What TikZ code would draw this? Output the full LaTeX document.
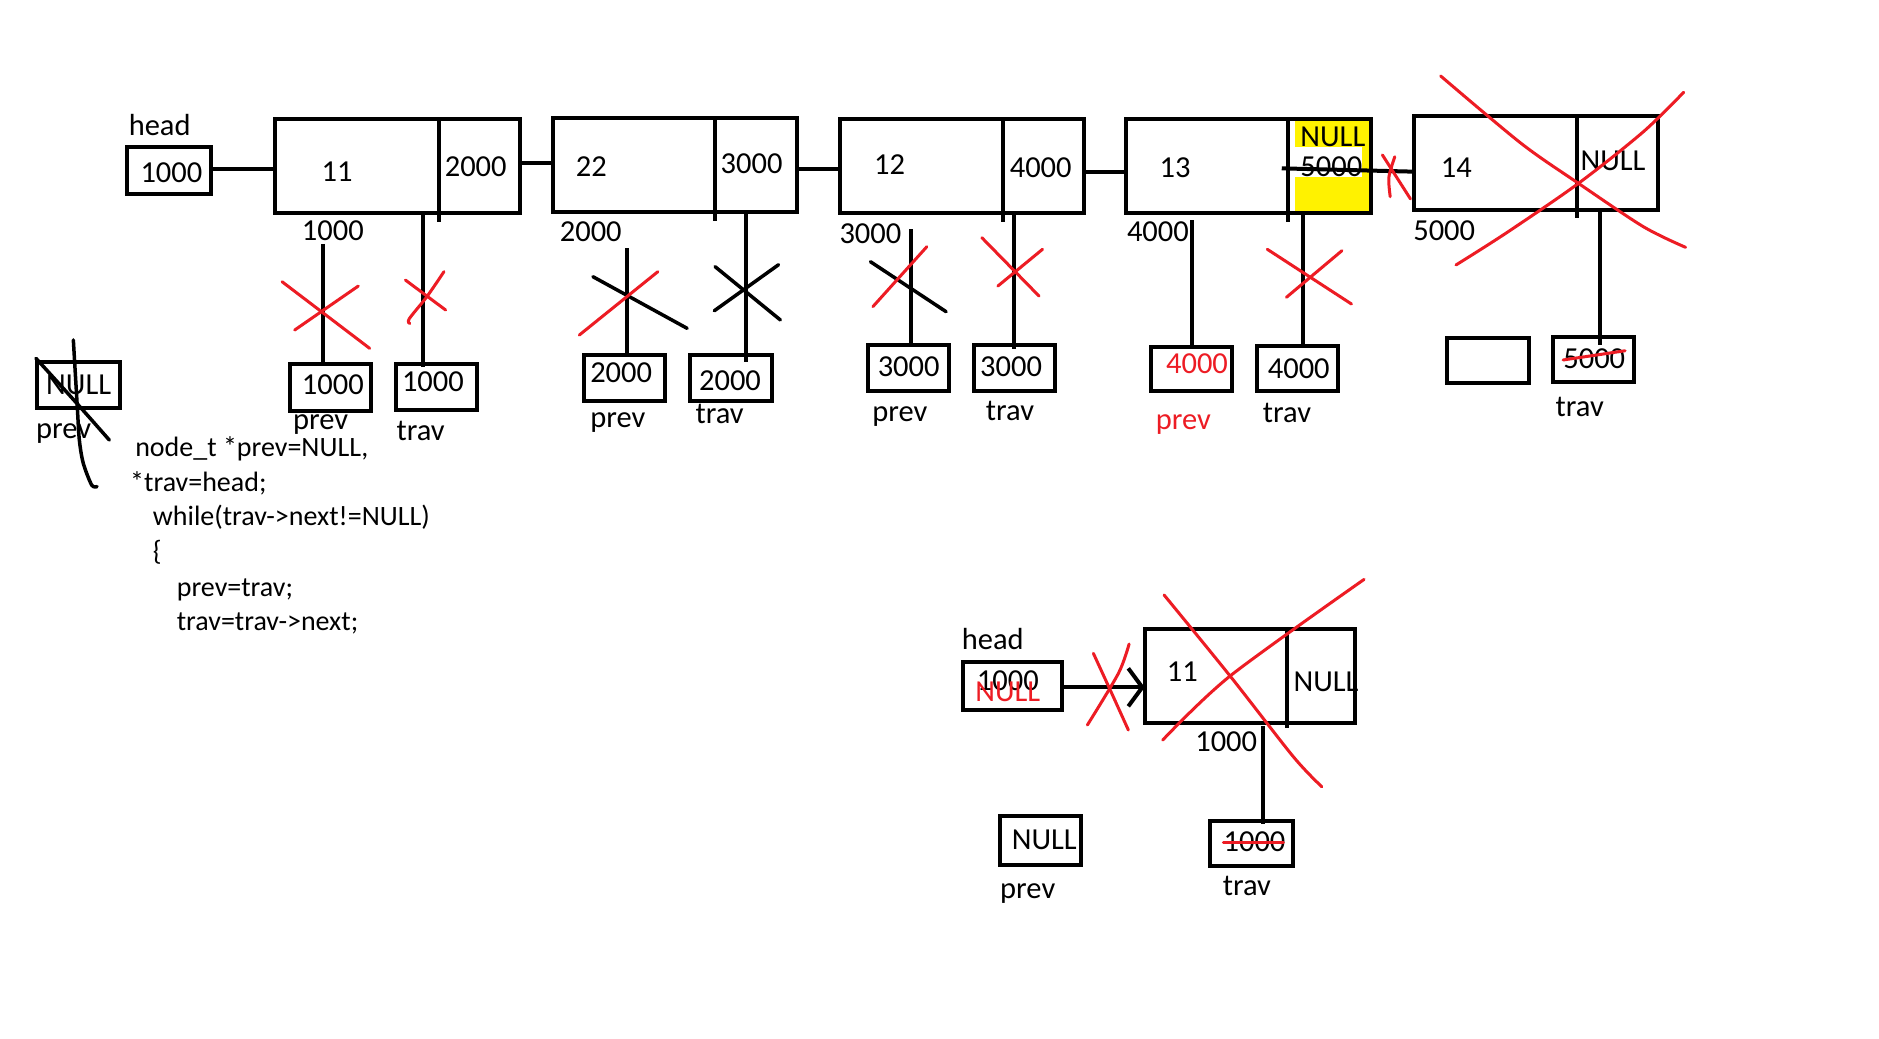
\documentclass[tikz,border=0pt]{standalone}
\usepackage{fontspec}
\setmainfont{Carlito}
\usetikzlibrary{arrows.meta,fit}
\definecolor{inkred}{RGB}{237,28,36}
\definecolor{hilite}{RGB}{255,242,0}
\begin{document}
\begin{tikzpicture}[x=1.1983pt,y=-1.1983pt,
  box/.style={draw, line width=4pt, inner sep=0pt, outer sep=0pt},
  wire/.style={line width=4pt},
  lbl/.style={font=\fontsize{30.5}{36}\selectfont, inner sep=0pt, anchor=base west},
  code/.style={font=\fontsize{28}{34}\selectfont, inner sep=0pt, anchor=base west},
  redink/.style={draw=inkred, line width=3pt, line cap=round},
  blackink/.style={draw=black, line width=3.5pt, line cap=round},
  redtext/.style={text=inkred}]

\fill[white] (0,0) rectangle (1568,867);
\useasboundingbox (0,0) rectangle (1568,867);

% ---------- list nodes (top row) ----------
\fill[hilite] (1080.7,98.7) rectangle (1143.3,176.7);
\fill[white] (1081,122.4) rectangle (1136.4,147.4);

\node[box, fit={(106,122.7) (176.2,161.9)}] (hd) {};
\node[box, fit={(229.7,99.1) (434,177.7)}] (n1) {};
\node[box, fit={(461.3,98.5) (665,176.9)}] (n2) {};
\node[box, fit={(700.6,99.1) (904.9,177.7)}] (n3) {};
\node[box, fit={(939.5,99.1) (1143.7,177.7)}] (n4) {};
\node[box, fit={(1180,96.8) (1383.2,175.5)}] (n5) {};

% data | next dividers
\draw[wire] (366,100) -- (366,185);
\draw[wire] (596.7,100) -- (596.7,184.2);
\draw[wire] (836.6,100) -- (836.6,185);
\draw[wire] (1075.1,100) -- (1075.1,185);
\draw[wire] (1315.6,97.4) -- (1315.6,182.2);

% pointer boxes
\node[box, fit={(30.7,301.7) (99.8,340.3)}] (p1) {};
\node[box, fit={(241.7,303.5) (309.7,342.7)}] (p2) {};
\node[box, fit={(330.4,303.5) (397.7,341.9)}] (t2) {};
\node[box, fit={(487.2,296.6) (555.3,334.9)}] (p3) {};
\node[box, fit={(575.4,296) (644.1,334.4)}] (t3) {};
\node[box, fit={(724.1,288.2) (792.3,326.5)}] (p4) {};
\node[box, fit={(812.4,287.7) (880.5,326)}] (t4) {};
\node[box, fit={(960.6,289.6) (1028.1,326.5)}] (p5) {};
\node[box, fit={(1049,288.8) (1116.6,326.5)}] (t5) {};
\node[box, fit={(1207.1,282.1) (1275.5,319.6)}] (e6) {};
\node[box, fit={(1295.9,281.3) (1363.4,318.8)}] (t6) {};

% ---------- single node list (bottom) ----------
\node[box, fit={(803.4,552.5) (886.2,592.2)}] (hb) {};
\node[box, fit={(955.3,525.2) (1131,603.3)}] (n6) {};
\draw[wire] (1073.7,525) -- (1073.7,607.8);
\node[box, fit={(834.8,681) (901.8,721.6)}] (pb) {};
\node[box, fit={(1009.5,685.4) (1079,722.9)}] (tb) {};

% ---------- texts ----------
\node[lbl] (hdlab) at (107.3,113.2) {head};
\node[lbl] (hdval) at (117.1,152.4) {1000};
\node[lbl] (d1) at (268.2,151.6) {11};
\node[lbl] (x1) at (371,147.4) {2000};
\node[lbl] (a1) at (251.8,201.1) {1000};
\node[lbl] (p2v) at (251.8,329.6) {1000};
\node[lbl] (p2l) at (244.4,358.8) {prev};
\node[lbl] (t2v) at (335.3,326.3) {1000};
\node[lbl] (t2l) at (330.8,367.2) {trav};

\node[lbl] (d2) at (480.4,146.9) {22};
\node[lbl] (x2) at (601.2,144.6) {3000};
\node[lbl] (a2) at (467,201.7) {2000};
\node[lbl] (p3v) at (492.4,319.3) {2000};
\node[lbl] (p3l) at (492.4,356.6) {prev};
\node[lbl] (t3v) at (583.2,325.5) {2000};
\node[lbl] (t3l) at (580.3,353.3) {trav};

\node[lbl] (d3) at (729.3,146) {12};
\node[lbl] (x3) at (842.5,148) {4000};
\node[lbl] (a3) at (700.4,203.6) {3000};
\node[lbl] (p4v) at (732.3,313.8) {3000};
\node[lbl] (p4l) at (727.8,351.9) {prev};
\node[lbl] (t4v) at (817.8,313.8) {3000};
\node[lbl] (t4l) at (822.6,351) {trav};

\node[lbl] (d4) at (967.5,148) {13};
\node[lbl] (x4n) at (1085,122.4) {NULL};
\node[lbl] (x4) at (1085,147.4) {5000};
\node[lbl] (a4) at (940.3,201.7) {4000};
\node[lbl, redtext] (p5v) at (972.9,311.5) {4000};
\node[lbl, redtext] (p5l) at (964.3,358.8) {prev};
\node[lbl] (t5v) at (1057.8,315.7) {4000};
\node[lbl] (t5l) at (1053.7,352.7) {trav};

\node[lbl] (d5) at (1202.2,148) {14};
\node[lbl] (x5) at (1318.8,141.9) {NULL};
\node[lbl] (a5) at (1179.2,200.3) {5000};
\node[lbl] (t6v) at (1304.4,307.4) {5000};
\node[lbl] (t6l) at (1298,347.2) {trav};

\node[lbl] (p1v) at (38.4,328.8) {NULL};
\node[lbl] (p1l) at (30,365.8) {prev};

\node[code] (c1) at (112.7,381) {node\_t *prev=NULL,};
\node[code] (c2) at (108.5,410) {*trav=head;};
\node[code] (c3) at (127.4,438.7) {while(trav->next!=NULL)};
\node[code] (c4) at (127.4,467.5) {\{};
\node[code] (c5) at (147.4,498) {prev=trav;};
\node[code] (c6) at (147.4,525.8) {trav=trav->next;};

\node[lbl] (hblab) at (802.5,541.6) {head};
\node[lbl] (hbval) at (815,575.8) {1000};
\node[lbl, redtext] (hbnew) at (813.7,585.5) {NULL};
\node[lbl] (d6) at (973.6,568.9) {11};
\node[lbl] (x6) at (1079.3,577.2) {NULL};
\node[lbl] (a6) at (997.3,627.3) {1000};
\node[lbl] (tbv) at (1020.9,710.7) {1000};
\node[lbl] (tbl) at (1020.3,746.9) {trav};
\node[lbl] (pbv) at (844.2,709.3) {NULL};
\node[lbl] (pbl) at (834.5,749.7) {prev};

% ---------- links between list nodes ----------
\draw[wire] ([shift={(0,-1.3)}]hd.east) -- ([shift={(0,-1.3)}]hd.east -| n1.west);
\draw[wire] ([shift={(0,-2.1)}]n1.east) -- ([shift={(0,-1.4)}]n2.west);
\draw[wire] ([shift={(0,3.6)}]n2.east) -- ([shift={(0,2.9)}]n3.west);
\draw[wire] ([shift={(0,5.1)}]n3.east) -- ([shift={(0,5.1)}]n4.west);
\coordinate (n4in) at (1069.6,140.5);
\draw[wire] (n4in) -- ([shift={(0,7.1)}]n5.west);

% ---------- pointer lines ----------
\coordinate (q2) at (269.7,203.6);
\draw[wire] (q2) -- (q2 |- p2.north);
\coordinate (r2) at (352.6,179.4);
\draw[wire] (r2) -- ([yshift=-3pt]r2 |- t2.north);
\coordinate (q3) at (522.8,207.2);
\draw[wire] (q3) -- (q3 |- p3.north);
\coordinate (r3) at (622.9,178);
\draw[wire] (r3) -- ([yshift=-7pt]r3 |- t3.north);
\coordinate (q4) at (760.6,191.4);
\draw[wire] (q4) -- (q4 |- p4.north);
\coordinate (r4) at (846.1,178);
\draw[wire] (r4) -- ([yshift=-4pt]r4 |- t4.north);
\coordinate (q5) at (994.6,183.6);
\draw[wire] (q5) -- (q5 |- p5.north);
\coordinate (r5) at (1087.2,178);
\draw[wire] (r5) -- (r5 |- t5.north);
\coordinate (r6) at (1335.4,177);
\draw[wire] (r6) -- ([yshift=-8pt]r6 |- t6.north);
\coordinate (rb) at (1053.7,606);
\draw[wire] (rb) -- ([yshift=-3pt]rb |- tb.north);

% head -> node arrow (bottom)
\draw[wire, -{Straight Barb[length=14pt,width=38pt]}] ([shift={(0,1.2)}]hb.east) -- ([shift={(0,1.2)}]hb.east -| n6.west);

% ---------- strike-outs ----------
% top row, node 1
\draw[redink] (235.4,235.1) -- (308.5,290.7);
\draw[redink] (245.9,275.4) -- (299,238.7);
\draw[redink] (338.3,233.7) -- (371.9,258.7);
\draw[redink] plot[smooth] coordinates {(370.5,226.7) (356.2,247.6) (341.5,266) (342,270)};
% node 2
\draw[blackink] (494.8,230.9) -- (573.4,274);
\draw[redink] (483.4,279.6) -- (549,226.7);
\draw[blackink] (596.1,259.3) -- (649.7,220.9);
\draw[blackink] (596.7,222.5) -- (651.2,267);
% node 3
\draw[blackink] (726.4,218.4) -- (789.5,260.1);
\draw[redink] (728.4,255.9) -- (773.4,205.9);
\draw[redink] (819.3,198.3) -- (867,247);
\draw[redink] (832.7,238.7) -- (870,208);
% node 4
\draw[redink] (1057.5,208) -- (1127.8,253.7);
\draw[redink] (1073.5,248.1) -- (1119.8,209.2);
\draw[redink] (1153.6,129.3) -- (1177,166);
\draw[redink] plot[smooth] coordinates {(1163.9,130.8) (1159,148) (1160.1,164.1)};
% node 5
\draw[redink] plot[smooth] coordinates {(1202.2,63.4) (1269.3,119.6) (1317.2,153) (1371.4,189.2) (1406.6,206.4)};
\draw[redink] plot[smooth] coordinates {(1215,221.1) (1256.5,194.7) (1317.2,153) (1371.4,109.9) (1405,77)};
\draw[redink] (1304.4,300.4) -- (1356.1,292.7);
% prev = NULL box
\draw[blackink] plot[smooth] coordinates {(61.2,283.7) (64.5,339.4) (66.2,367) (69.5,386.6) (76.5,404.7) (81,406)};
\draw[blackink] plot[smooth] coordinates {(30,299) (65.4,338) (91.2,367.2)};
% bottom
\draw[redink] plot[smooth] coordinates {(912.4,545.2) (927,577) (941.6,609.2)};
\draw[redink] plot[smooth] coordinates {(942.2,537.4) (933.3,561.9) (907.4,605)};
\draw[redink] plot[smooth] coordinates {(971.4,496.5) (1026.5,564.1) (1079.3,631.5) (1103,656.5)};
\draw[redink] plot[smooth] coordinates {(970.3,617.5) (1026.5,564.1) (1138.3,483.5)};
\draw[redink] (1020.9,703.2) -- (1071,703.2);
\end{tikzpicture}
\end{document}
